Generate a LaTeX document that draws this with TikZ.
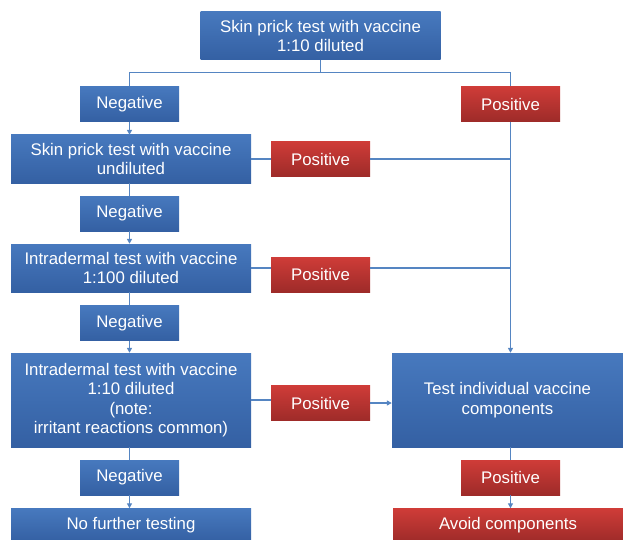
\documentclass[tikz,border=0pt]{standalone}
\usepackage{fontspec}
\setmainfont{Liberation Sans}
\usetikzlibrary{arrows.meta,calc}
\definecolor{btop}{HTML}{4779BE}
\definecolor{bbot}{HTML}{3460A3}
\definecolor{rtop}{HTML}{CF3C38}
\definecolor{rbot}{HTML}{9E2B29}
\definecolor{conn}{HTML}{5585C2}
\tikzset{
  box/.style={rectangle, inner sep=0pt, align=center, text=white,
    font=\fontsize{16.8}{19.5}\selectfont, top color=btop, bottom color=bbot, draw=none},
  bluebox/.style={box},
  redbox/.style={box, top color=rtop, bottom color=rbot},
  small/.style={minimum width=99pt, minimum height=35pt},
  big/.style={minimum width=240pt, minimum height=48pt},
  conline/.style={draw=conn, line width=1.8pt},
  arr/.style={conline, -{Triangle[length=5pt,width=5pt]}}
}
\begin{document}
\begin{tikzpicture}[x=1pt,y=-1pt]
\useasboundingbox (0,0) rectangle (623,540);
\node[bluebox, big] (top) at (320.5,36) {Skin prick test with vaccine\\1:10 diluted};
\node[bluebox, small] (neg1) at (129.5,104) {Negative};
\node[redbox, small] (pos1) at (510.5,104) {Positive};
\node[bluebox, big] (box2) at (131,159) {Skin prick test with vaccine\\undiluted};
\node[redbox, small] (pos2) at (320.5,159) {Positive};
\node[bluebox, small] (neg2) at (129.5,213.5) {Negative};
\node[bluebox, big] (box3) at (131,268) {Intradermal test with vaccine\\1:100 diluted};
\node[redbox, small] (pos3) at (320.5,274.5) {Positive};
\node[bluebox, small] (neg3) at (129.5,323) {Negative};
\node[bluebox, minimum width=240pt, minimum height=94pt] (box4) at (131,400) {Intradermal test with vaccine\\1:10 diluted\\(note:\\irritant reactions common)};
\node[redbox, small] (pos4) at (320.5,403) {Positive};
\node[bluebox, minimum width=231pt, minimum height=94pt] (test) at (507.5,400) {Test individual vaccine\\components};
\node[bluebox, small] (neg4) at (129.5,477.5) {Negative};
\node[redbox, small] (pos5) at (510.5,477.5) {Positive};
\node[bluebox, minimum width=240pt, minimum height=33pt] (nofurther) at (131,525) {No further testing};
\node[redbox, minimum width=230pt, minimum height=33pt] (avoid) at (508,525) {Avoid components};

\coordinate (sp) at (320.5,72.5);
\draw[conline] (top.south) -- (sp);
\draw[conline] (neg1.north) |- (sp) -| (pos1.north);
\draw[arr] (neg1.south) -- (box2.north -| neg1.south);
\draw[conline] (box2.south -| neg2.north) -- (neg2.north);
\draw[arr] (neg2.south) -- (box3.north -| neg2.south);
\draw[conline] (box3.south -| neg3.north) -- (neg3.north);
\draw[arr] (neg3.south) -- (box4.north -| neg3.south);
\draw[conline] (box4.south -| neg4.north) -- (neg4.north);
\draw[arr] (neg4.south) -- (nofurther.north -| neg4.south);
\draw[arr] (pos1.south) -- (test.north -| pos1.south);
\draw[conline] (box2.east) -- (box2.east -| pos2.west);
\draw[conline] (box2.east -| pos2.east) -- (box2.east -| pos1.south);
\draw[conline] (box3.east) -- (box3.east -| pos3.west);
\draw[conline] (box3.east -| pos3.east) -- (box3.east -| pos1.south);
\draw[conline] (box4.east) -- (box4.east -| pos4.west);
\draw[arr] (pos4.east) -- (test.west |- pos4.east);
\draw[conline] (test.south -| pos5.north) -- (pos5.north);
\draw[arr] (pos5.south) -- (avoid.north -| pos5.south);
\end{tikzpicture}
\end{document}
